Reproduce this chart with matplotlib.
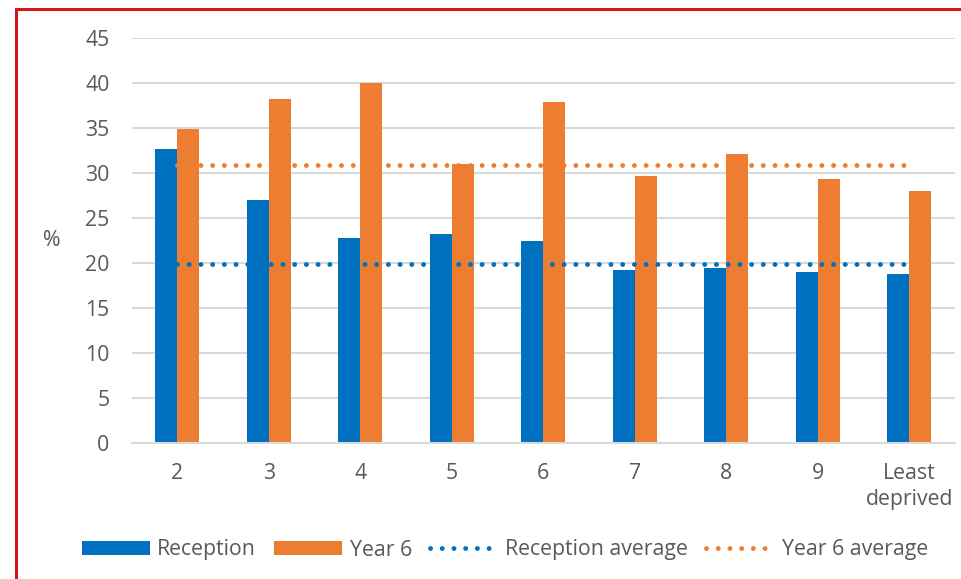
import numpy as np
import matplotlib.pyplot as plt
from matplotlib.lines import Line2D

plt.rcParams['font.family'] = ['Open Sans', 'DejaVu Sans']

# deprivation deciles, most deprived (1) not shown
categories = ['2', '3', '4', '5', '6', '7', '8', '9', 'Least\ndeprived']
reception = [32.7, 27.0, 22.8, 23.3, 22.5, 19.3, 19.5, 19.0, 18.8]
year6 = [34.9, 38.2, 40.0, 31.0, 37.9, 29.7, 32.1, 29.4, 28.0]
reception_avg = 19.9
year6_avg = 30.9

blue = '#0070C0'
orange = '#ED7D31'
grey_text = '#595959'
grid = '#D9D9D9'
fs = 15.3

fig = plt.figure(figsize=(9.62, 5.79), dpi=100)
ax = fig.add_axes([0.1369, 0.2344, 0.8558, 0.6995])

x = np.arange(len(categories))
w = 0.24
b1 = ax.bar(x - w / 2, reception, w, color=blue, label='Reception', zorder=2)
b2 = ax.bar(x + w / 2, year6, w, color=orange, label='Year 6', zorder=2)

dots = (0, (0.01, 2.4))
l1, = ax.plot(x, [reception_avg] * len(x), color=blue, lw=3.5, linestyle=dots,
              dash_capstyle='round', label='Reception average', zorder=3)
l2, = ax.plot(x, [year6_avg] * len(x), color=orange, lw=3.5, linestyle=dots,
              dash_capstyle='round', label='Year 6 average', zorder=3)

ax.set_xlim(-0.5, len(x) - 0.5)
ax.set_ylim(0, 45)
ax.set_yticks(np.arange(0, 46, 5))
ax.yaxis.grid(True, color=grid, lw=1.5, zorder=0)
ax.set_axisbelow(True)
for s in ['top', 'right', 'left']:
    ax.spines[s].set_visible(False)
ax.spines['bottom'].set_color(grid)
ax.spines['bottom'].set_linewidth(1.5)

ax.set_xticks(x)
ax.set_xticklabels(categories, linespacing=1.35)
ax.tick_params(axis='both', length=0, labelsize=fs, colors=grey_text)
ax.tick_params(axis='y', pad=16)
ax.tick_params(axis='x', pad=14)

ax.set_ylabel('%', rotation=0, fontsize=fs, color=grey_text, labelpad=24, va='center')

ax.legend(handles=[b1, b2, l1, l2], loc='center', bbox_to_anchor=(505 / 962, 29 / 579),
          bbox_transform=fig.transFigure, ncol=4, frameon=False, fontsize=fs,
          labelcolor=grey_text, handlelength=3.2, handleheight=0.6,
          handletextpad=0.35, columnspacing=0.85)

# red frame along the left and top edges
red = '#D7141A'
fig.add_artist(Line2D([16 / 962, 16 / 962], [0, 1 - 9 / 579], color=red, lw=2.2))
fig.add_artist(Line2D([16 / 962, 1], [1 - 9 / 579, 1 - 9 / 579], color=red, lw=2.2))

fig.savefig('out.png', dpi=100)
